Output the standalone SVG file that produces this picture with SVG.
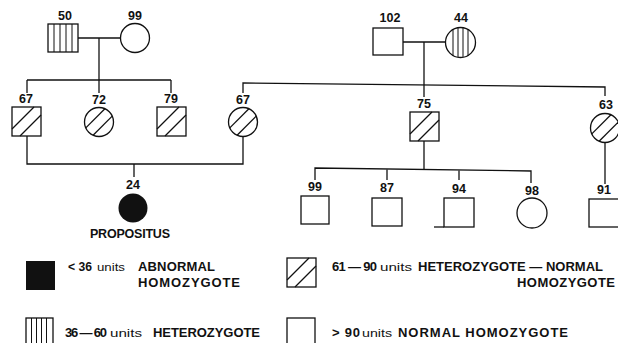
<svg xmlns="http://www.w3.org/2000/svg" xmlns:xlink="http://www.w3.org/1999/xlink" width="618" height="343" viewBox="0 0 618 343">
<style>
.s{fill:none;stroke:#111;stroke-width:1.3}
.c{fill:none;stroke:#111;stroke-width:1.3}
.st{stroke:#111;stroke-width:1}
.n{font-family:"Liberation Sans",Arial,sans-serif;font-weight:bold;font-size:12.5px;fill:#111;text-anchor:middle}
.t{font-family:"Liberation Sans",Arial,sans-serif;font-weight:bold;font-size:13px;fill:#111}
.u{font-family:"Liberation Sans",Arial,sans-serif;font-size:11px;fill:#111}
</style>
<defs>
<g id="hsq" class="s"><rect x="0" y="0" width="29" height="29"/><line x1="0" y1="22" x2="22" y2="0"/><line x1="8" y1="29" x2="29" y2="8"/></g>
<g id="hci" class="s"><circle cx="0" cy="0" r="14.5"/><line x1="-13.2" y1="5.9" x2="5.9" y2="-13.2"/><line x1="-5.9" y1="13.2" x2="13.2" y2="-5.9"/></g>
</defs>
<rect width="618" height="343" fill="#fff"/>
<g id="connectors" class="c">
<line x1="78" y1="38" x2="120.5" y2="38"/>
<line x1="99" y1="38" x2="99" y2="93"/>
<line x1="27" y1="80" x2="171" y2="80"/>
<line x1="27" y1="80" x2="27" y2="93"/>
<line x1="171" y1="80" x2="171" y2="93"/>
<polyline points="243,93 243,83 605,87 605,96"/>
<line x1="403" y1="42" x2="445.5" y2="42"/>
<line x1="424" y1="42" x2="424" y2="97"/>
<polyline points="27,136 27,164 243,164 243,136.5"/>
<line x1="134" y1="164" x2="134" y2="177"/>
<line x1="424" y1="141" x2="424" y2="169"/>
<polyline points="315,180 315,168 531,171 531,183"/>
<line x1="387" y1="169.5" x2="387" y2="180"/>
<line x1="459" y1="170.5" x2="459" y2="180"/>
<line x1="605" y1="142.5" x2="605" y2="184"/>
</g>
<g id="n50"><rect class="s" x="48" y="24" width="30" height="28"/><g class="st"><line x1="54" y1="24" x2="54" y2="52"/><line x1="60" y1="24" x2="60" y2="52"/><line x1="66" y1="24" x2="66" y2="52"/><line x1="72" y1="24" x2="72" y2="52"/></g><text class="n" x="65" y="20">50</text></g>
<g id="n99"><circle class="s" cx="135" cy="38" r="14.5"/><text class="n" x="135" y="20">99</text></g>
<g id="n67a"><use xlink:href="#hsq" x="12" y="107"/><text class="n" x="26" y="103">67</text></g>
<g id="n72"><use xlink:href="#hci" x="99" y="122"/><text class="n" x="99" y="104">72</text></g>
<g id="n79"><use xlink:href="#hsq" x="157" y="107"/><text class="n" x="171" y="103">79</text></g>
<g id="n67b"><use xlink:href="#hci" x="243" y="122"/><text class="n" x="243" y="104">67</text></g>
<g id="n102"><rect class="s" x="373" y="28" width="30" height="27"/><text class="n" x="390" y="22">102</text></g>
<g id="n44"><circle class="s" cx="460.5" cy="42.5" r="15"/><g class="st"><line x1="453" y1="29.5" x2="453" y2="55.5"/><line x1="458" y1="28" x2="458" y2="57"/><line x1="463" y1="28" x2="463" y2="57"/><line x1="468" y1="29.5" x2="468" y2="55.5"/></g><text class="n" x="461" y="22">44</text></g>
<g id="n75"><use xlink:href="#hsq" x="410" y="112"/><text class="n" x="424" y="108">75</text></g>
<g id="n63"><use xlink:href="#hci" x="605" y="128"/><text class="n" x="606" y="109">63</text></g>
<g id="n24"><circle cx="133" cy="208" r="14.5" fill="#111"/><text class="n" x="133" y="189">24</text><text class="n" x="130" y="238" textLength="80" lengthAdjust="spacing">PROPOSITUS</text></g>
<g id="n99b"><rect class="s" x="301" y="196" width="28" height="28"/><text class="n" x="315" y="191">99</text></g>
<g id="n87"><rect class="s" x="372" y="198" width="30" height="28"/><text class="n" x="387" y="192">87</text></g>
<g id="n94"><rect class="s" x="444" y="198" width="30" height="29"/><line class="s" x1="434" y1="227" x2="444" y2="227"/><text class="n" x="459" y="193">94</text></g>
<g id="n98"><circle class="s" cx="532" cy="213" r="15"/><text class="n" x="532" y="195">98</text></g>
<g id="n91"><rect class="s" x="589" y="199" width="30" height="28"/><text class="n" x="604" y="194">91</text></g>
<g id="legend">
<rect x="26" y="261" width="29" height="29" fill="#111"/>
<text class="t" x="68" y="271" textLength="24" lengthAdjust="spacingAndGlyphs">&lt; 36</text>
<text class="u" x="97" y="271" textLength="28" lengthAdjust="spacingAndGlyphs">units</text>
<text class="t" x="138" y="271" textLength="77" lengthAdjust="spacing">ABNORMAL</text>
<text class="t" x="138" y="287" textLength="102" lengthAdjust="spacing">HOMOZYGOTE</text>
<rect class="s" x="26" y="318" width="27" height="32"/>
<g class="st"><line x1="31.5" y1="318" x2="31.5" y2="343"/><line x1="36.5" y1="318" x2="36.5" y2="343"/><line x1="41.5" y1="318" x2="41.5" y2="343"/><line x1="46.5" y1="318" x2="46.5" y2="343"/></g>
<text class="t" x="65" y="337" textLength="42" lengthAdjust="spacing">36 — 60</text>
<text class="u" x="110" y="337" textLength="32" lengthAdjust="spacingAndGlyphs">units</text>
<text class="t" x="153" y="337" textLength="107" lengthAdjust="spacing">HETEROZYGOTE</text>
<use xlink:href="#hsq" x="287" y="258"/>
<text class="t" x="332" y="271" textLength="45" lengthAdjust="spacing">61 — 90</text>
<text class="u" x="380" y="271" textLength="32" lengthAdjust="spacingAndGlyphs">units</text>
<text class="t" x="418" y="271" textLength="185" lengthAdjust="spacing">HETEROZYGOTE — NORMAL</text>
<text class="t" x="517" y="287" textLength="98" lengthAdjust="spacing">HOMOZYGOTE</text>
<rect class="s" x="287" y="318" width="28" height="32"/>
<text class="t" x="332" y="337" textLength="28" lengthAdjust="spacing">&gt; 90</text>
<text class="u" x="362" y="337" textLength="30" lengthAdjust="spacingAndGlyphs">units</text>
<text class="t" x="398" y="337" textLength="170" lengthAdjust="spacing">NORMAL HOMOZYGOTE</text>
</g>
</svg>
